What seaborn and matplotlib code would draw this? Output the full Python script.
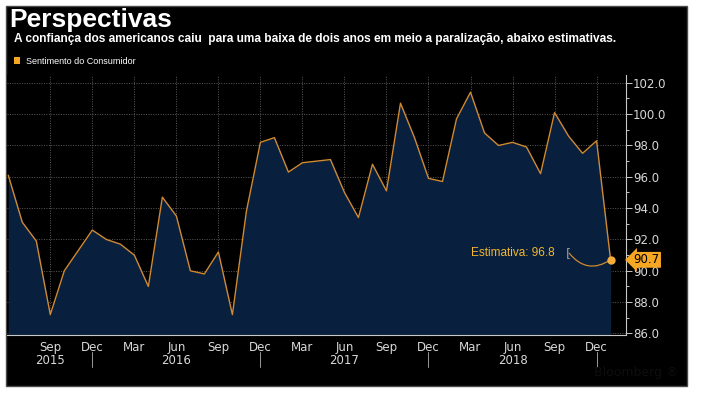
import numpy as np
import pandas as pd
import seaborn as sns
import matplotlib
matplotlib.use("Agg")
from matplotlib import pyplot as plt
from matplotlib.patches import Rectangle
from matplotlib.ticker import MultipleLocator, FixedLocator

# University of Michigan consumer sentiment, Jun 2015 .. Jan 2019 (prelim)
start_month = "2015-06"
sentiment = [96.1, 93.1, 91.9, 87.2, 90.0, 91.3, 92.6,
             92.0, 91.7, 91.0, 89.0, 94.7, 93.5, 90.0, 89.8, 91.2, 87.2, 93.8, 98.2,
             98.5, 96.3, 96.9, 97.0, 97.1, 95.0, 93.4, 96.8, 95.1, 100.7, 98.5, 95.9,
             95.7, 99.7, 101.4, 98.8, 98.0, 98.2, 97.9, 96.2, 100.1, 98.6, 97.5, 98.3,
             90.7]
estimate = 96.8
title = "Perspectivas"
subtitle = ("A confiança dos americanos caiu  para uma baixa de dois anos em meio "
            "a paralização, abaixo estimativas.")
series_name = "Sentimento do Consumidor"

dates = pd.date_range(start_month, periods=len(sentiment), freq="MS")
df = pd.DataFrame({"idx": np.arange(len(sentiment)), "date": dates, "value": sentiment})

sns.set_style("dark")
plt.rcParams["font.family"] = ["DejaVu Sans"]

W, H = 701, 399
fig = plt.figure(figsize=(W / 100, H / 100), dpi=100)
fig.patch.set_facecolor("white")
fig.patches.append(Rectangle((6 / W, 1 - 386 / H), 681 / W, 380 / H, transform=fig.transFigure,
                             facecolor="black", edgecolor="#4a4a4a", lw=1, zorder=-2))

ax = fig.add_axes([7.3 / W, 1 - 335 / H, (626 - 7.3) / W, (335 - 75) / H])
ax.set_facecolor("black")

orange = "#d08a32"
fill = "#08203d"
ymin, ymax = 85.9, 102.5

ax.fill_between(df.idx, df.value, ymin, color=fill, lw=0, zorder=1)
sns.lineplot(data=df, x="idx", y="value", color=orange, lw=1.0, ax=ax, zorder=3)
last = df.iloc[-1]
ax.plot([last.idx], [last.value], "o", ms=5, color="#f5ad3a", zorder=4)

ax.set_xlim(-0.07, 44.1)
ax.set_ylim(ymin, ymax)

# ticks every month, labels every quarter (skip the one on the left edge)
quarter_idx = [i for i, d in enumerate(dates) if d.month in (3, 6, 9, 12) and i > 0]
ax.xaxis.set_major_locator(FixedLocator(quarter_idx))
ax.xaxis.set_minor_locator(MultipleLocator(1))
ax.set_xticklabels([dates[i].strftime("%b") for i in quarter_idx])
ax.yaxis.set_major_locator(MultipleLocator(2))
ax.yaxis.set_minor_locator(MultipleLocator(1))
ax.yaxis.set_major_formatter(matplotlib.ticker.FormatStrFormatter("%.1f"))
ax.grid(True, which="major", color="#5a5a5a", ls=(0, (1, 1.5)), lw=0.7, zorder=2)
ax.grid(False, which="minor")

ax.yaxis.tick_right()
ax.set_xlabel("")
ax.set_ylabel("")
for s in ["left", "top"]:
    ax.spines[s].set_visible(False)
for s in ["right", "bottom"]:
    ax.spines[s].set_visible(True)
    ax.spines[s].set_color("#c8c8c8")
    ax.spines[s].set_linewidth(0.8)
ax.tick_params(axis="both", which="both", colors="#c8c8c8", labelcolor="#d8d8d8",
               labelsize=8.5, direction="out", width=0.7)
ax.tick_params(axis="y", which="major", length=4, pad=1)
ax.tick_params(axis="y", which="minor", length=2.5)
ax.tick_params(axis="x", which="major", length=3, pad=1)
ax.tick_params(axis="x", which="minor", length=2)

# year labels and separators
trans = ax.get_xaxis_transform()
for yr in sorted(set(dates.year)):
    months = [i for i, d in enumerate(dates) if d.year == yr]
    if len(months) < 3:
        continue
    center = (months[0] + months[-1]) / 2
    pos = min(quarter_idx, key=lambda q: (abs(q - center), q))
    ax.text(pos, -0.1, str(yr), transform=trans, ha="center", va="center",
            color="#d8d8d8", fontsize=8.5)
    if dates[months[-1]].month == 12:
        ax.plot([months[-1]] * 2, [-0.065, -0.122], transform=trans, color="#9a9a9a",
                lw=0.7, clip_on=False)

# estimate annotation
ax.text(39.0, 91.12, f"Estimativa: {estimate}", ha="right", va="center",
        color="#f2b630", fontsize=8.5, family="Liberation Sans")
ax.text(40.0, 91.12, "[", ha="center", va="center", color="#9a9a9a", fontsize=9)
ax.annotate("", xy=(last.idx, last.value), xytext=(40.05, 91.12),
            arrowprops=dict(arrowstyle="-", color=orange, lw=0.9,
                            connectionstyle="arc3,rad=0.45", shrinkA=0, shrinkB=0))

# last-value tag
ax.text(1.012, last.value, f"{last.value:.1f}", transform=ax.get_yaxis_transform(),
        ha="left", va="center", color="black", fontsize=8.5, zorder=5,
        bbox=dict(boxstyle="larrow,pad=0.12", fc="#f5a623", ec="none"))

# titles and legend
fig.text(9 / W, 1 - 27 / H, title, color="white", fontsize=19, weight="bold",
         family="Liberation Sans", va="baseline")
fig.text(14 / W, 1 - 42 / H, subtitle, color="white", fontsize=8.6, weight="bold",
         family="Liberation Sans", va="baseline")
fig.patches.append(Rectangle((14 / W, 1 - 64 / H), 6 / W, 7 / H, transform=fig.transFigure,
                             facecolor="#f5a623", edgecolor="none", zorder=1))
fig.text(26 / W, 1 - 64 / H, series_name, color="white", fontsize=6.5,
         family="Liberation Sans", va="baseline")
fig.text(678 / W, 1 - 376 / H, "Bloomberg ®", color="#0e0e0e", fontsize=9,
         ha="right", va="baseline")

fig.savefig("out.png", dpi=100, facecolor="white")
